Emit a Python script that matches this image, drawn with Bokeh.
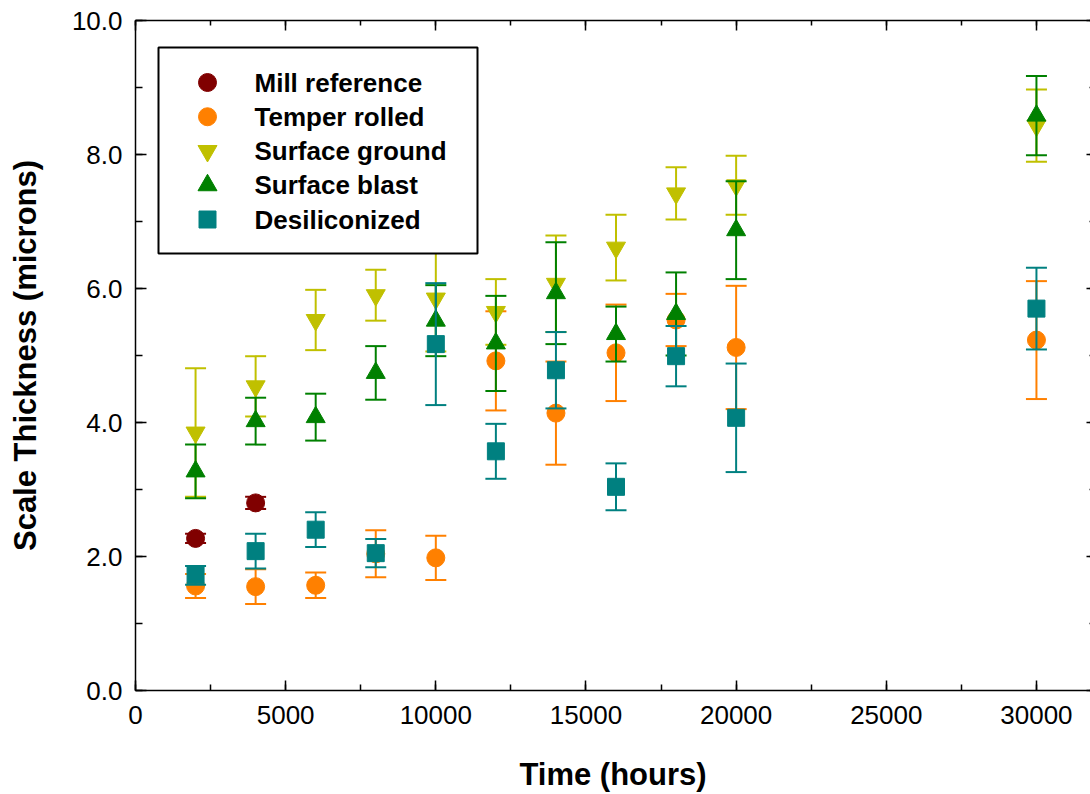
from bokeh.plotting import figure
from bokeh.models import (ColumnDataSource, Range1d, LinearAxis, SingleIntervalTicker,
                          NumeralTickFormatter)
from bokeh.core.properties import value
from bokeh.embed import file_html
from bokeh.resources import INLINE

# ---- data ----
hours = [2000, 4000, 6000, 8000, 10000, 12000, 14000, 16000, 18000, 20000, 30000]
mill_hours = [2000, 4000]
mill_ref = [2.27, 2.80]
mill_err = [0.07, 0.09]
temper = [1.56, 1.55, 1.57, 2.04, 1.98, 4.92, 4.14, 5.04, 5.53, 5.12, 5.23]
temper_err = [0.18, 0.26, 0.19, 0.35, 0.33, 0.74, 0.77, 0.72, 0.39, 0.92, 0.88]
ground = [3.85, 4.54, 5.53, 5.90, 5.85, 5.65, 6.07, 6.61, 7.42, 7.54, 8.43]
ground_err = [0.96, 0.45, 0.45, 0.38, 0.79, 0.49, 0.72, 0.49, 0.39, 0.44, 0.54]
blast = [3.27, 4.02, 4.08, 4.74, 5.52, 5.18, 5.93, 5.32, 5.62, 6.87, 8.58]
blast_err = [0.40, 0.35, 0.35, 0.40, 0.53, 0.71, 0.76, 0.41, 0.62, 0.73, 0.59]
desil = [1.72, 2.08, 2.40, 2.05, 5.17, 3.57, 4.78, 3.04, 4.99, 4.07, 5.70]
desil_err = [0.14, 0.26, 0.26, 0.21, 0.91, 0.41, 0.57, 0.35, 0.45, 0.81, 0.61]

labels = ["Mill reference", "Temper rolled", "Surface ground", "Surface blast", "Desiliconized"]
colors = ["#800000", "#ff8000", "#c0c000", "#008000", "#008080"]
markers = ["circle", "circle", "inverted_triangle", "triangle", "square"]
sizes = [18, 18, 19, 19, 17]
xs_list = [mill_hours, hours, hours, hours, hours]
vals_list = [mill_ref, temper, ground, blast, desil]
errs_list = [mill_err, temper_err, ground_err, blast_err, desil_err]

FONT = "Liberation Sans"
FRAME_W, FRAME_H = 955, 670

p = figure(width=1090, height=794, x_range=Range1d(0, 31800), y_range=Range1d(0, 10),
           output_backend="svg", toolbar_location=None,
           min_border_left=135, min_border_right=0, min_border_top=20, min_border_bottom=104,
           x_axis_label="Time (hours)", y_axis_label="Scale Thickness (microns)")
p.xgrid.visible = False
p.ygrid.visible = False
p.outline_line_color = None
p.background_fill_color = "white"
p.border_fill_color = "white"
# pixel-space ranges for the legend box (origin at frame top-left)
p.extra_x_ranges = {"px": Range1d(0, FRAME_W)}
p.extra_y_ranges = {"px": Range1d(FRAME_H, 0)}

xa = p.xaxis[0]
xa.ticker = SingleIntervalTicker(interval=5000, num_minor_ticks=2)
xa.formatter = NumeralTickFormatter(format="0")
xa.major_tick_in = 10
xa.major_tick_out = 0
xa.minor_tick_in = 6
xa.minor_tick_out = 0
xa.major_label_standoff = 15
xa.axis_label_standoff = 30

ya = p.yaxis[0]
ya.ticker = SingleIntervalTicker(interval=2, num_minor_ticks=2)
ya.formatter = NumeralTickFormatter(format="0.0")
ya.major_tick_in = 11
ya.major_tick_out = 0
ya.minor_tick_in = 7
ya.minor_tick_out = 0
ya.major_label_standoff = 13
ya.axis_label_standoff = 26

for ax in (xa, ya):
    ax.axis_line_color = "black"
    ax.axis_line_width = 1.5
    ax.major_tick_line_color = "black"
    ax.major_tick_line_width = 1.5
    ax.minor_tick_line_color = "black"
    ax.minor_tick_line_width = 1.5
    ax.major_label_text_font = FONT
    ax.major_label_text_font_size = "26px"
    ax.major_label_text_color = "black"
    ax.axis_label_text_font = FONT
    ax.axis_label_text_font_size = "31px"
    ax.axis_label_text_font_style = "bold"
    ax.axis_label_text_color = "black"

top = LinearAxis(ticker=SingleIntervalTicker(interval=5000, num_minor_ticks=2),
                 major_tick_in=10, major_tick_out=0, minor_tick_in=5, minor_tick_out=0,
                 major_label_text_color=None, major_label_text_font_size="1px",
                 major_label_standoff=0, axis_line_width=1.5, major_tick_line_width=1.5,
                 minor_tick_line_width=1.5)
p.add_layout(top, "above")

right = LinearAxis(ticker=SingleIntervalTicker(interval=2, num_minor_ticks=2),
                   major_tick_in=4, major_tick_out=0, minor_tick_in=1, minor_tick_out=0,
                   major_label_text_color=None, major_label_text_font_size="1px",
                   major_label_standoff=0, axis_line_color=None, major_tick_line_width=1.5,
                   minor_tick_line_width=1.5)
p.add_layout(right, "right")

for xs, vals, errs, color, marker, size in zip(xs_list, vals_list, errs_list, colors, markers, sizes):
    src = ColumnDataSource(dict(
        x=xs, y=vals,
        lo=[v - e for v, e in zip(vals, errs)],
        hi=[v + e for v, e in zip(vals, errs)],
    ))
    p.segment(x0="x", y0="lo", x1="x", y1="hi", source=src, line_color=color, line_width=2)
    p.scatter(x="x", y="hi", marker="dash", size=21, line_color=color, line_width=2, source=src)
    p.scatter(x="x", y="lo", marker="dash", size=21, line_color=color, line_width=2, source=src)
    p.scatter(x="x", y="y", marker=marker, size=size, fill_color=color,
              line_color=color, line_width=1, source=src)

# ---- legend box (drawn in frame pixel space) ----
LEG_L, LEG_R, LEG_T, LEG_B = 23, 342, 27, 233
LEG_SWATCH_X, LEG_TEXT_X, LEG_ROW0, LEG_PITCH = 72, 119, 62, 34.25
rows = [LEG_ROW0 + i * LEG_PITCH for i in range(len(labels))]

p.quad(left=[LEG_L], right=[LEG_R], top=[LEG_T], bottom=[LEG_B],
       fill_color="white", line_color="black", line_width=2,
       x_range_name="px", y_range_name="px")
leg_src = ColumnDataSource(dict(x=[LEG_SWATCH_X] * len(labels), y=rows,
                                tx=[LEG_TEXT_X] * len(labels), label=labels,
                                color=colors, marker=markers, size=sizes))
p.scatter(x="x", y="y", marker="marker", size="size", fill_color="color",
          line_color="color", line_width=1, source=leg_src,
          x_range_name="px", y_range_name="px")
p.text(x="tx", y="y", text="label", source=leg_src, text_font=value(FONT),
       text_font_style="bold", text_font_size="26px", text_baseline="middle",
       text_align="left", text_color="black", x_range_name="px", y_range_name="px")

open("out.html", "w").write(file_html(p, INLINE))
